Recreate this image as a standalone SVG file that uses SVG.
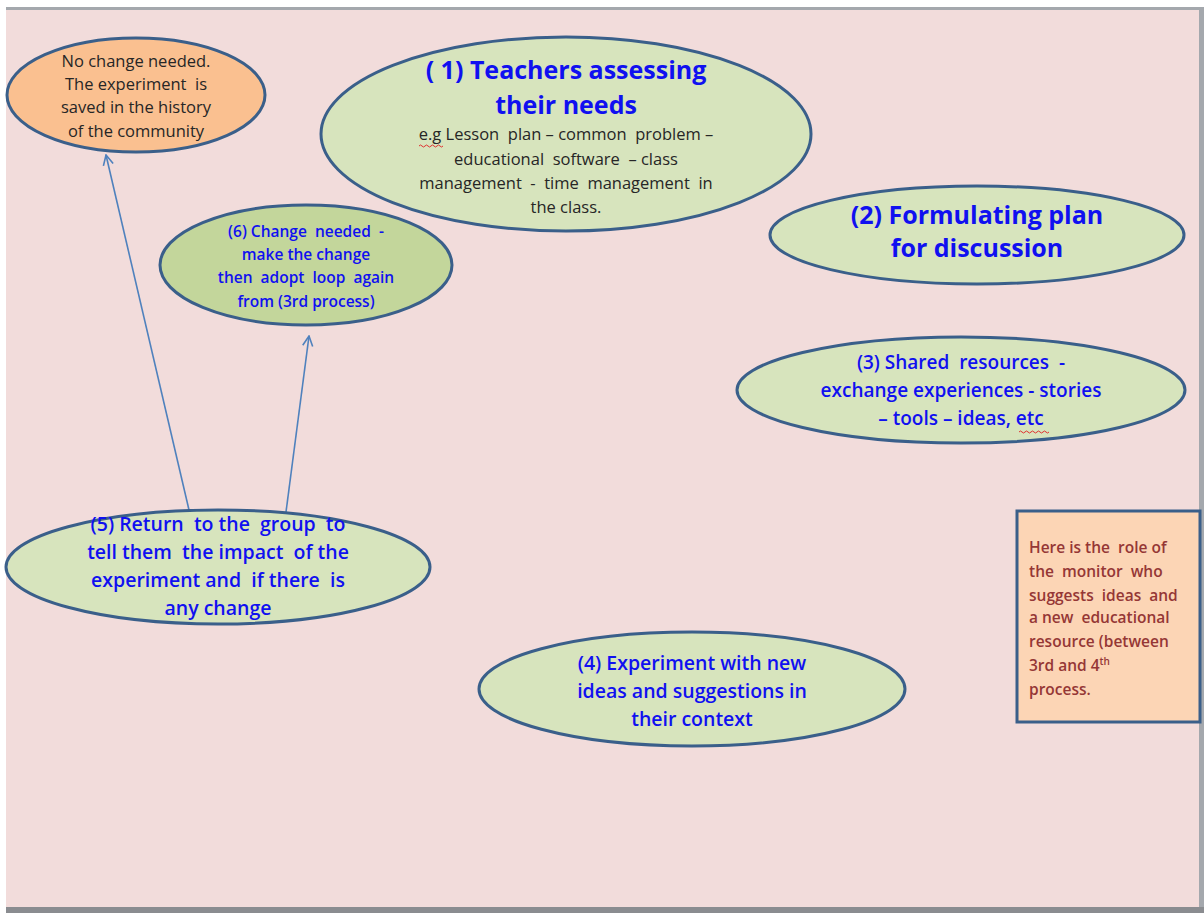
<svg xmlns="http://www.w3.org/2000/svg" width="1204" height="913" viewBox="0 0 1204 913">
<defs>
<style>
.bg{fill:#F2DCDB}
.green{fill:#D7E4BD;stroke:#3A5F8A;stroke-width:3}
.green2{fill:#C3D69B;stroke:#3A5F8A;stroke-width:3}
.orange{fill:#FAC090;stroke:#3A5F8A;stroke-width:3}
.box{fill:#FCD5B5;stroke:#3A5F8A;stroke-width:3}
text{font-family:"Open Sans","Liberation Sans",sans-serif;text-anchor:middle;white-space:pre}
.blue{fill:#1010F0}
.dark{fill:#262626}
.brown{fill:#953735}
.b{font-weight:bold}
.sb{font-weight:600}
.conn{stroke:#4F81BD;stroke-width:1.6;fill:none}
.squig{stroke:#E03030;stroke-width:1;fill:none}
</style>
<marker id="arr" viewBox="0 0 12 12" refX="11" refY="6" markerWidth="12" markerHeight="12" markerUnits="userSpaceOnUse" orient="auto">
<path d="M1,1 L11,6 L1,11" fill="none" stroke="#4F81BD" stroke-width="1.6"/>
</marker>
</defs>
<rect x="0" y="0" width="1204" height="913" fill="#FFFFFF"/>
<rect class="bg" x="6" y="10" width="1194" height="898"/>
<rect x="6" y="7" width="1198" height="3" fill="#A4A8AD"/>
<rect x="1199" y="7" width="5" height="906" fill="#A4A8AD"/>
<rect x="6" y="907" width="1198" height="6" fill="#8A8C90"/>

<g id="connectors">
<line class="conn" x1="189" y1="510" x2="106" y2="155" marker-end="url(#arr)"/>
<line class="conn" x1="286" y1="512" x2="309" y2="336" marker-end="url(#arr)"/>
</g>

<g id="node-nochange">
<ellipse class="orange" cx="136" cy="95" rx="129" ry="57"/>
<text class="dark" font-size="16.5" xml:space="preserve"><tspan x="136" y="67">No change needed.</tspan><tspan x="136" y="90">The experiment  is</tspan><tspan x="136" y="113">saved in the history</tspan><tspan x="136" y="137">of the community</tspan></text>
</g>

<g id="node-1">
<ellipse class="green" cx="566" cy="134" rx="245" ry="97"/>
<text class="blue b" font-size="25"><tspan x="566" y="79">( 1) Teachers assessing</tspan><tspan x="566" y="114">their needs</tspan></text>
<text class="dark" font-size="16.5" xml:space="preserve"><tspan x="566" y="140">e.g Lesson  plan – common  problem –</tspan><tspan x="566" y="165">educational  software  – class</tspan><tspan x="566" y="189">management  -  time  management  in</tspan><tspan x="566" y="213">the class.</tspan></text>
<path class="squig" d="M419,146 q1.5,-2 3,0 t3,0 t3,0 t3,0 t3,0 t3,0 t3,0 t3,0"/>
</g>

<g id="node-6">
<ellipse class="green2" cx="306" cy="265" rx="146" ry="60"/>
<text class="blue sb" font-size="15.5" xml:space="preserve"><tspan x="306" y="237">(6) Change  needed  -</tspan><tspan x="306" y="260">make the change</tspan><tspan x="306" y="283">then  adopt  loop  again</tspan><tspan x="306" y="307">from (3rd process)</tspan></text>
</g>

<g id="node-2">
<ellipse class="green" cx="977" cy="235" rx="207" ry="49"/>
<text class="blue b" font-size="25"><tspan x="977" y="224">(2) Formulating plan</tspan><tspan x="977" y="257">for discussion</tspan></text>
</g>

<g id="node-3">
<ellipse class="green" cx="961" cy="390" rx="224" ry="53"/>
<text class="blue sb" font-size="19" xml:space="preserve"><tspan x="961" y="369">(3) Shared  resources  -</tspan><tspan x="961" y="397">exchange experiences - stories</tspan><tspan x="961" y="425">– tools – ideas, etc</tspan></text>
<path class="squig" d="M1019,432 q1.5,-2 3,0 t3,0 t3,0 t3,0 t3,0 t3,0 t3,0 t3,0 t3,0 t3,0"/>
</g>

<g id="node-4">
<ellipse class="green" cx="692" cy="689" rx="213" ry="57"/>
<text class="blue sb" font-size="19.5"><tspan x="692" y="670">(4) Experiment with new</tspan><tspan x="692" y="698">ideas and suggestions in</tspan><tspan x="692" y="726">their context</tspan></text>
</g>

<g id="node-5">
<ellipse class="green" cx="218" cy="567" rx="212" ry="57"/>
<text class="blue sb" font-size="19.5" xml:space="preserve"><tspan x="218" y="531">(5) Return  to the  group  to</tspan><tspan x="218" y="559">tell them  the impact  of the</tspan><tspan x="218" y="587">experiment and  if there  is</tspan><tspan x="218" y="615">any change</tspan></text>
</g>

<g id="node-monitor">
<rect class="box" x="1017" y="511" width="183" height="211"/>
<text class="brown sb" font-size="15.5" style="text-anchor:start" xml:space="preserve"><tspan x="1029" y="553">Here is the  role of</tspan><tspan x="1029" y="577">the  monitor  who</tspan><tspan x="1029" y="601">suggests  ideas  and</tspan><tspan x="1029" y="623">a new  educational</tspan><tspan x="1029" y="647">resource (between</tspan><tspan x="1029" y="671">3rd and 4<tspan font-size="10" dy="-6">th</tspan></tspan><tspan x="1029" y="695">process.</tspan></text>
</g>
</svg>
